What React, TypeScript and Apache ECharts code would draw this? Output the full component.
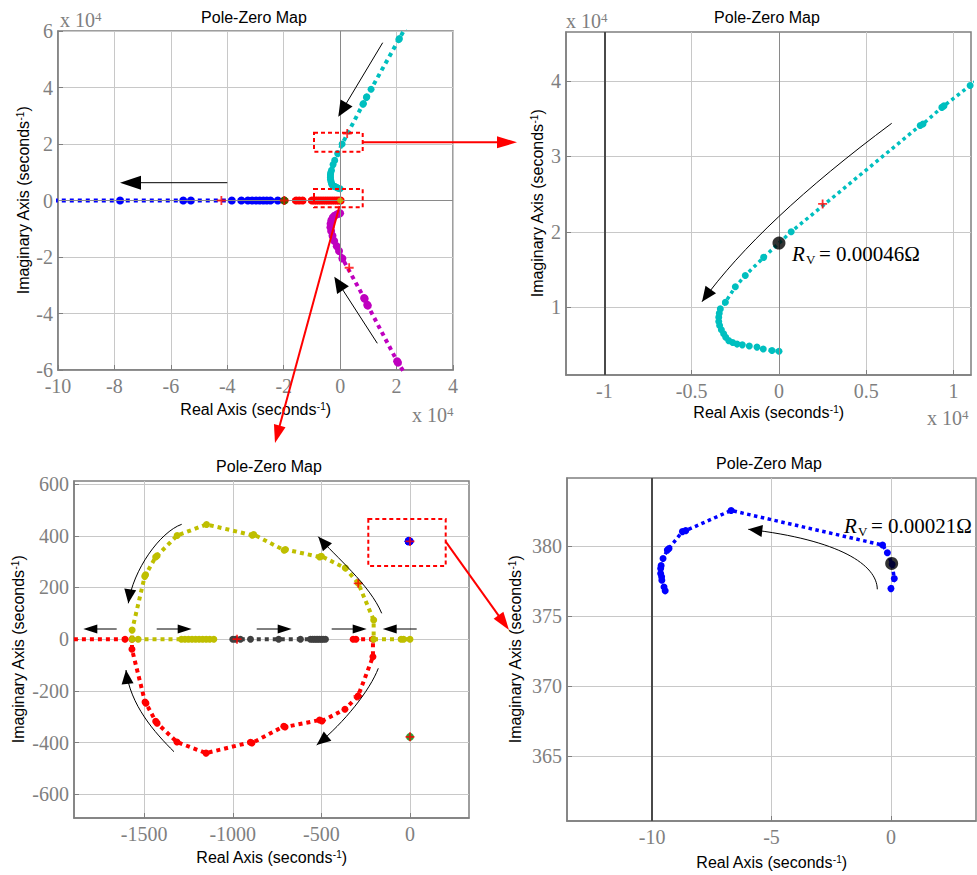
import React, { useEffect, useRef } from 'react';
import * as echarts from 'echarts';

const SANS = '"Liberation Sans", Arial, Helvetica, sans-serif';
const SERIF = '"Liberation Serif", "Times New Roman", Times, serif';
const AXIS_GRAY = '#7f7f7f';

// ---------- Panel 1 (units: x 10^4 s^-1) ----------
const p1XTicks = [-10, -8, -6, -4, -2, 0, 2, 4];
const p1YTicks = [-6, -4, -2, 0, 2, 4, 6];
const p1Blue = [[-11, 0], [-7.8, 0], [-5.56, 0], [-5.29, 0], [-3.84, 0], [-3.5, 0], [-3.27, 0], [-3.12, 0], [-2.98, 0], [-2.85, 0], [-2.72, 0], [-2.6, 0], [-2.47, 0], [-2.21, 0]];
const p1Red = [[-1.98, 0], [-1.56, 0], [-1.45, 0], [-1.33, 0], [-1.0, 0], [-0.92, 0], [-0.84, 0], [-0.76, 0], [-0.68, 0], [-0.6, 0], [-0.52, 0], [-0.44, 0], [-0.36, 0], [-0.28, 0], [-0.2, 0], [-0.12, 0], [-0.05, 0], [0.02, 0]];
const cyanLocus = [[0.0, 0.416], [-0.04, 0.425], [-0.09, 0.445], [-0.126, 0.47], [-0.17, 0.485], [-0.21, 0.5], [-0.24, 0.51], [-0.265, 0.53], [-0.288, 0.556], [-0.305, 0.6], [-0.317, 0.646], [-0.33, 0.7], [-0.34, 0.756], [-0.345, 0.81], [-0.345, 0.867], [-0.342, 0.92], [-0.336, 0.977], [-0.307, 1.066], [-0.25, 1.27], [-0.193, 1.42], [-0.088, 1.66], [0.07, 2.0], [0.809, 3.41], [0.825, 3.43], [0.933, 3.65], [0.945, 3.67], [1.095, 3.94], [2.08, 5.7], [2.1, 5.73], [2.5, 6.45]];
const magentaLocus = [[0.0, -0.45], [-0.06, -0.47], [-0.13, -0.5], [-0.2, -0.54], [-0.26, -0.6], [-0.31, -0.7], [-0.34, -0.82], [-0.345, -0.95], [-0.32, -1.08], [-0.27, -1.25], [-0.21, -1.43], [-0.12, -1.62], [-0.04, -1.79], [0.08, -2.05], [0.85, -3.45], [0.87, -3.48], [0.96, -3.69], [0.98, -3.72], [2.02, -5.69], [2.05, -5.74], [2.5, -6.45]];
const p1Green = [[-1.98, 0]];
const p1Yellow = [[0, 0]];
const p1Plus = [[-4.21, 0], [-1.98, 0], [0.25, 2.37], [0.32, -2.38]];

// ---------- Panel 2 (zoom of cyan locus, x 10^4) ----------
const p2XTicks = [-1, -0.5, 0, 0.5, 1];
const p2YTicks = [1, 2, 3, 4];
const p2Plus = [[0.25, 2.37]];
const p2Rv = [[0, 1.85]];

// ---------- Panel 3 (s^-1) ----------
const p3XTicks = [-1500, -1000, -500, 0];
const p3YTicks = [-600, -400, -200, 0, 200, 400, 600];
const p3Yellow = [[0, 0], [-36, 0], [-50, 0], [-205, 0], [-205, 74], [-292, 216], [-365, 275], [-500, 321], [-510, 318], [-703, 347], [-710, 344], [-882, 405], [-890, 402], [-1148, 444], [-1314, 401], [-1427, 323], [-1435, 318], [-1492, 249], [-1497, 243], [-1568, 35], [-1568, 0], [-1534, 0], [-1290, 0], [-1270, 0], [-1250, 0], [-1230, 0], [-1210, 0], [-1190, 0], [-1170, 0], [-1150, 0], [-1130, 0], [-1107, 0]];
const p3Red = [[-321, 0], [-305, 0], [-209, 0], [-209, -68], [-293, -220], [-367, -271], [-497, -317], [-510, -313], [-705, -340], [-712, -337], [-892, -402], [-900, -399], [-1151, -441], [-1315, -398], [-1427, -325], [-1435, -318], [-1490, -248], [-1495, -243], [-1569, -39], [-1569, 0], [-1608, 0], [-2100, 0]];
const p3Gray = [[-1000, 0], [-985, 0], [-957, 0], [-900, 0], [-741, 0], [-618, 0], [-562, 0], [-550, 0], [-540, 0], [-530, 0], [-520, 0], [-510, 0], [-500, 0], [-490, 0], [-477, 0]];
const p3Green = [[0, -378]];
const p3Plus = [[-292, 216], [-293, -220], [-976, 0], [0, 378], [0, -378]];

// ---------- Panel 4 (s^-1) ----------
const p4XTicks = [-10, -5, 0];
const p4YTicks = [365, 370, 375, 380];
const p4Blue = [[0, 376.96], [0.14, 377.68], [0.05, 378.7], [-0.15, 379.52], [-0.35, 380.07], [-6.69, 382.54], [-8.59, 381.1], [-8.73, 381.03], [-9.29, 379.83], [-9.36, 379.71], [-9.54, 379.11], [-9.62, 378.6], [-9.64, 378.4], [-9.64, 378.04], [-9.6, 377.8], [-9.59, 377.56], [-9.5, 377.08], [-9.45, 376.8]];
const p4Rv = [[0.03, 378.76]];

const PLUS = 'path://M4,0H6V4H10V6H6V10H4V6H0V4H4Z';

function xAxisOf(gridIndex: number, min: number, max: number, ticks: number[], nameGap: number) {
  return {
    type: 'value', gridIndex, min, max,
    name: 'Real Axis (seconds{sup|-1})', nameLocation: 'middle', nameGap,
    nameTextStyle: { fontFamily: SANS, fontSize: 16, color: '#000', rich: { sup: { fontFamily: SANS, fontSize: 10, color: '#000', verticalAlign: 'top' } } },
    axisLine: { show: true, onZero: false, lineStyle: { color: AXIS_GRAY, width: 1.5 } },
    axisTick: { show: true, inside: true, length: 5, lineStyle: { color: AXIS_GRAY }, customValues: ticks },
    axisLabel: { customValues: ticks, fontFamily: SERIF, fontSize: 20, color: AXIS_GRAY, margin: 6, formatter: (v: number) => String(v) },
    splitLine: { show: true, lineStyle: { color: '#c8c8c8', width: 1 } },
  };
}
function yAxisOf(gridIndex: number, min: number, max: number, ticks: number[], nameGap: number) {
  return {
    type: 'value', gridIndex, min, max,
    name: 'Imaginary Axis (seconds{sup|-1})', nameLocation: 'middle', nameGap, nameRotate: 90,
    nameTextStyle: { fontFamily: SANS, fontSize: 16, color: '#000', rich: { sup: { fontFamily: SANS, fontSize: 10, color: '#000', verticalAlign: 'top' } } },
    axisLine: { show: true, onZero: false, lineStyle: { color: AXIS_GRAY, width: 1.5 } },
    axisTick: { show: true, inside: true, length: 5, lineStyle: { color: AXIS_GRAY }, customValues: ticks },
    axisLabel: { customValues: ticks, fontFamily: SERIF, fontSize: 20, color: AXIS_GRAY, margin: 5, formatter: (v: number) => String(v) },
    splitLine: { show: true, lineStyle: { color: '#c8c8c8', width: 1 } },
  };
}

function lineSeries(name: string, data: number[][], color: string, idx: number, width: number, sym: number) {
  return {
    name, type: 'line', xAxisIndex: idx, yAxisIndex: idx, data,
    showSymbol: true, symbol: 'circle', symbolSize: sym,
    itemStyle: { color },
    lineStyle: { color, width, type: [width, width] },
    clip: true, silent: true, z: 3,
  };
}
function pointSeries(name: string, data: number[][], color: string, idx: number, size: number, symbol = 'circle', z = 5) {
  return { name, type: 'scatter', xAxisIndex: idx, yAxisIndex: idx, data, symbol, symbolSize: size, itemStyle: { color }, silent: true, z };
}
function refLines(idx: number, lines: any[]) {
  return {
    type: 'scatter', xAxisIndex: idx, yAxisIndex: idx, data: [], silent: true, z: 1,
    markLine: { silent: true, symbol: ['none', 'none'], label: { show: false }, animation: false, data: lines },
  };
}

// ---------- annotation helpers (pixel layout) ----------
function head(tx: number, ty: number, fx: number, fy: number, len: number, wid: number, color: string) {
  const dx = tx - fx, dy = ty - fy, d = Math.hypot(dx, dy);
  const ux = dx / d, uy = dy / d;
  const bx = tx - ux * len, by = ty - uy * len;
  const px = -uy * wid / 2, py = ux * wid / 2;
  return { type: 'polygon', z: 100, shape: { points: [[tx, ty], [bx + px, by + py], [bx - px, by - py]] }, style: { fill: color } };
}
function straight(x1: number, y1: number, x2: number, y2: number, len: number, wid: number, color: string, lw: number) {
  const d = Math.hypot(x2 - x1, y2 - y1), ux = (x2 - x1) / d, uy = (y2 - y1) / d;
  return [
    { type: 'line', z: 100, shape: { x1, y1, x2: x2 - ux * len * 0.8, y2: y2 - uy * len * 0.8 }, style: { stroke: color, lineWidth: lw } },
    head(x2, y2, x1, y1, len, wid, color),
  ];
}
function curved(p0: number[], c1: number[], c2: number[], p3: number[], len: number, wid: number) {
  return [
    { type: 'bezierCurve', z: 100, shape: { x1: p0[0], y1: p0[1], cpx1: c1[0], cpy1: c1[1], cpx2: c2[0], cpy2: c2[1], x2: p3[0], y2: p3[1] }, style: { stroke: '#000', lineWidth: 1, fill: null } },
    head(p3[0], p3[1], c2[0], c2[1], len, wid, '#000'),
  ];
}
function dashedRect(x: number, y: number, w: number, h: number) {
  return { type: 'rect', z: 100, shape: { x, y, width: w, height: h }, style: { fill: 'transparent', stroke: '#ff0000', lineWidth: 2, lineDash: [4, 3] } };
}
function title(text: string, x: number, y: number) {
  return { type: 'text', z: 100, style: { text, x, y, fill: '#000', fontFamily: SANS, fontSize: 16, align: 'center', verticalAlign: 'middle', textAlign: 'center', textVerticalAlign: 'middle' } };
}
function exp4(x: number, y: number) {
  return {
    type: 'text', z: 100,
    style: {
      text: '{b|x 10}{s|4}', x, y, verticalAlign: 'middle', textVerticalAlign: 'middle',
      rich: {
        b: { fontFamily: SERIF, fontSize: 20, fill: AXIS_GRAY },
        s: { fontFamily: SERIF, fontSize: 13, fill: AXIS_GRAY, verticalAlign: 'top' },
      },
    },
  };
}
function txt(text: string, x: number, y: number, size: number, italic = false) {
  return { type: 'text', z: 100, style: { text, x, y, fill: '#000', fontFamily: SERIF, fontSize: size, fontStyle: italic ? 'italic' : 'normal', verticalAlign: 'middle', textVerticalAlign: 'middle' } };
}
function rvText(value: string, x: number, y: number) {
  return [
    txt('R', x, y, 21, true),
    txt('V', x + 14, y + 5, 13),
    txt(`= ${value}Ω`, x + 27, y, 21),
  ];
}

const graphics: any[] = [
  title('Pole-Zero Map', 254, 17),
  title('Pole-Zero Map', 767, 17),
  title('Pole-Zero Map', 269, 466),
  title('Pole-Zero Map', 769, 463),
  exp4(60, 20), exp4(412, 415), exp4(566, 21), exp4(927, 418),
  ...rvText('0.00046', 792, 254),
  ...rvText('0.00021', 844, 526),
  // panel 1
  ...straight(382.7, 42.7, 338.3, 116.7, 16, 14, '#000', 1),
  ...straight(377.3, 343.3, 334.3, 276.7, 16, 14, '#000', 1),
  ...straight(227.3, 182.7, 120, 182.7, 21, 14, '#000', 1),
  dashedRect(314, 132.7, 48.7, 19),
  dashedRect(314, 189, 48.7, 18.3),
  ...straight(362.7, 142.3, 517, 142.3, 20, 12, '#ff0000', 2),
  ...straight(339.5, 206, 275, 443, 18, 12, '#ff0000', 2),
  // panel 2
  ...curved([891.7, 123.3], [804.2, 188.4], [741, 247.8], [702, 301.7], 15, 13),
  // panel 3
  ...curved([181.7, 524.3], [160, 532], [133, 570], [128.3, 603.3], 14, 12),
  ...curved([381.7, 613.3], [370, 585], [335, 556], [318.3, 536.7], 14, 12),
  ...curved([174, 751.7], [155, 733], [130, 705], [126, 670], 14, 12),
  ...curved([378.3, 668.3], [370, 690], [345, 722], [316.7, 745], 14, 12),
  ...straight(116.7, 629, 83.3, 629, 14, 9, '#000', 1),
  ...straight(156.7, 629, 191.7, 629, 14, 9, '#000', 1),
  ...straight(256.7, 629, 291.7, 629, 14, 9, '#000', 1),
  ...straight(331.7, 629, 366.7, 629, 14, 9, '#000', 1),
  ...straight(416.7, 629, 382.7, 629, 14, 9, '#000', 1),
  dashedRect(368.3, 519, 77.4, 47),
  ...straight(445.7, 541.7, 509, 630, 18, 12, '#ff0000', 2),
  // panel 4
  ...curved([877.3, 589.3], [877, 565], [840, 540], [748.3, 529.3], 14, 12),
];

const gridBase = { show: true, borderColor: AXIS_GRAY, borderWidth: 1.5, backgroundColor: '#ffffff' };

const option: any = {
  animation: false,
  grid: [
    { ...gridBase, left: 58, top: 31, width: 395, height: 339 },
    { ...gridBase, left: 566, top: 32, width: 405, height: 343 },
    { ...gridBase, left: 74, top: 481, width: 395, height: 337 },
    { ...gridBase, left: 567, top: 478, width: 409, height: 343 },
  ],
  xAxis: [
    xAxisOf(0, -10, 4, p1XTicks, 31),
    xAxisOf(1, -1.22, 1.1, p2XTicks, 29),
    xAxisOf(2, -1896, 333, p3XTicks, 31),
    xAxisOf(3, -13.56, 3.56, p4XTicks, 33),
  ],
  yAxis: [
    yAxisOf(0, -6, 6, p1YTicks, 27),
    yAxisOf(1, 0.1, 4.65, p2YTicks, 21),
    yAxisOf(2, -692, 612, p3YTicks, 48),
    yAxisOf(3, 360.36, 384.86, p4YTicks, 44),
  ],
  series: [
    refLines(0, [{ xAxis: 0, lineStyle: { color: '#8a8a8a', width: 1, type: 'solid' } }, { yAxis: 0, lineStyle: { color: '#8a8a8a', width: 1, type: 'solid' } }]),
    refLines(1, [{ xAxis: 0, lineStyle: { color: '#8a8a8a', width: 1, type: 'solid' } }, { xAxis: -1, lineStyle: { color: '#4a4a4a', width: 2, type: 'solid' } }]),
    refLines(3, [{ xAxis: -10, lineStyle: { color: '#4a4a4a', width: 2, type: 'solid' } }]),
    // panel 1
    lineSeries('P1 blue', p1Blue, '#0000ff', 0, 4, 8),
    lineSeries('P1 red', p1Red, '#ff0000', 0, 4, 8),
    lineSeries('P1 cyan', cyanLocus, '#00bfbf', 0, 4, 7),
    lineSeries('P1 magenta', magentaLocus, '#bf00bf', 0, 4, 8),
    pointSeries('P1 green', p1Green, '#008000', 0, 8),
    pointSeries('P1 yellow', p1Yellow, '#bfbf00', 0, 6),
    pointSeries('P1 zeros', p1Plus, '#ff0000', 0, 9, PLUS, 6),
    // panel 2
    lineSeries('P2 cyan', cyanLocus, '#00bfbf', 1, 3.5, 7),
    pointSeries('P2 zero', p2Plus, '#ff0000', 1, 9, PLUS, 6),
    pointSeries('P2 Rv', p2Rv, '#000000', 1, 13, 'circle', 7),
    // panel 3
    lineSeries('P3 gray', p3Gray, '#404040', 2, 4, 7),
    lineSeries('P3 red', p3Red, '#ff0000', 2, 4, 7),
    lineSeries('P3 yellow', p3Yellow, '#bfbf00', 2, 4, 7),
    lineSeries('P3 blue', p4Blue, '#0000ff', 2, 4, 7),
    pointSeries('P3 green', p3Green, '#008000', 2, 8),
    pointSeries('P3 zeros', p3Plus, '#ff0000', 2, 9, PLUS, 6),
    // panel 4
    lineSeries('P4 blue', p4Blue, '#0000ff', 3, 3.5, 7),
    pointSeries('P4 Rv', p4Rv, '#000000', 3, 13, 'circle', 7),
  ],
  graphic: { elements: graphics },
};

export default function App() {
  const ref = useRef<HTMLDivElement>(null);
  useEffect(() => {
    const chart = echarts.init(ref.current!, null, { renderer: 'svg' });
    chart.setOption(option);
    return () => chart.dispose();
  }, []);
  return <div ref={ref} style={{ position: 'absolute', left: 0, top: 0, width: 977, height: 875, background: '#fff' }} />;
}
